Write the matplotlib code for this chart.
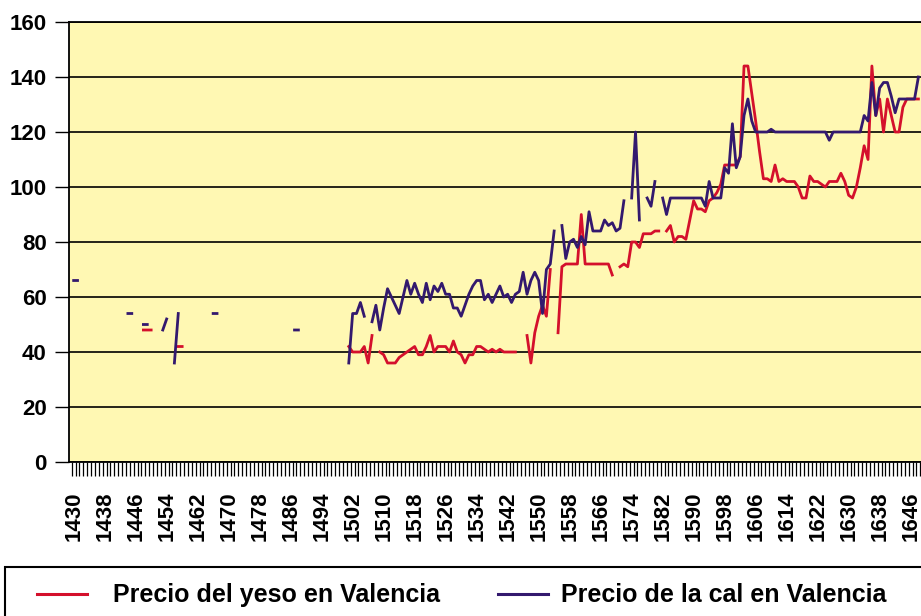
import numpy as np
import pandas as pd
import matplotlib
matplotlib.use('Agg')
import matplotlib.pyplot as plt
from matplotlib.lines import Line2D
from matplotlib.patches import Rectangle

plt.rcParams['font.family'] = ['Liberation Sans', 'DejaVu Sans']
plt.rcParams['font.weight'] = 'bold'

# precio del yeso (red) - years with data, gaps are left out
years_yeso = [1448, 1449, 1450, 1457, 1458,
              1501, 1502, 1503, 1504, 1505, 1506, 1507,
              1509, 1510, 1511, 1512, 1513, 1514, 1515, 1516, 1517, 1518, 1519, 1520,
              1521, 1522, 1523, 1524, 1525, 1526, 1527, 1528, 1529, 1530, 1531, 1532,
              1533, 1534, 1535, 1536, 1537, 1538, 1539, 1540, 1541, 1542, 1543, 1544,
              1547, 1548, 1549, 1550, 1551, 1552, 1553,
              1555, 1556, 1557, 1558, 1559, 1560, 1561, 1562, 1563, 1564, 1565, 1566,
              1567, 1568, 1569,
              1571, 1572, 1573, 1574, 1575, 1576, 1577, 1578, 1579, 1580, 1581,
              1583, 1584, 1585, 1586, 1587, 1588, 1589, 1590, 1591, 1592, 1593, 1594,
              1595, 1596, 1597, 1598, 1599, 1600, 1601, 1602, 1603, 1604, 1605, 1606,
              1607, 1608, 1609, 1610, 1611, 1612, 1613, 1614, 1615, 1616, 1617, 1618,
              1619, 1620, 1621, 1622, 1623, 1624, 1625, 1626, 1627, 1628, 1629, 1630,
              1631, 1632, 1633, 1634, 1635, 1636, 1637, 1638, 1639, 1640, 1641, 1642,
              1643, 1644, 1645, 1646, 1647, 1648]
yeso = [48, 48, 48, 42, 42,
        42, 40, 40, 40, 42, 36, 46,
        40, 39, 36, 36, 36, 38, 39, 40, 41, 42, 39, 39,
        42, 46, 40, 42, 42, 42, 40, 44, 40, 39, 36, 39,
        39, 42, 42, 41, 40, 41, 40, 41, 40, 40, 40, 40,
        46, 36, 47, 53, 57, 53, 70,
        47, 71, 72, 72, 72, 72, 90, 72, 72, 72, 72, 72,
        72, 72, 68,
        71, 72, 71, 80, 80, 78, 83, 83, 83, 84, 84,
        84, 86, 80, 82, 82, 81, 88, 95, 92, 92, 91, 95,
        96, 98, 101, 108, 108, 108, 108, 111, 144, 144, 134, 124,
        113, 103, 103, 102, 108, 102, 103, 102, 102, 102, 100, 96,
        96, 104, 102, 102, 101, 100, 102, 102, 102, 105, 102, 97,
        96, 100, 107, 115, 110, 144, 126, 132, 120, 132, 126, 120,
        120, 129, 132, 132, 132, 132]

# precio de la cal (blue)
years_cal = [1430, 1431, 1444, 1445, 1448, 1449, 1453, 1454, 1456, 1457,
             1466, 1467, 1487, 1488,
             1501, 1502, 1503, 1504, 1505,
             1507, 1508, 1509, 1510, 1511, 1512, 1513, 1514, 1515, 1516, 1517, 1518,
             1519, 1520, 1521, 1522, 1523, 1524, 1525, 1526, 1527, 1528, 1529, 1530,
             1531, 1532, 1533, 1534, 1535, 1536, 1537, 1538, 1539, 1540, 1541, 1542,
             1543, 1544, 1545, 1546, 1547, 1548, 1549, 1550, 1551, 1552, 1553, 1554,
             1556, 1557, 1558, 1559, 1560, 1561, 1562, 1563, 1564, 1565, 1566, 1567,
             1568, 1569, 1570, 1571, 1572,
             1574, 1575, 1576,
             1578, 1579, 1580,
             1582, 1583, 1584, 1585, 1586, 1587, 1588, 1589, 1590, 1591, 1592, 1593,
             1594, 1595, 1596, 1597, 1598, 1599, 1600, 1601, 1602, 1603, 1604, 1605,
             1606, 1607, 1608, 1609, 1610, 1611, 1612, 1613, 1614, 1615, 1616, 1617,
             1618, 1619, 1620, 1621, 1622, 1623, 1624, 1625, 1626, 1627, 1628, 1629,
             1630, 1631, 1632, 1633, 1634, 1635, 1636, 1637, 1638, 1639, 1640, 1641,
             1642, 1643, 1644, 1645, 1646, 1647, 1648]
cal = [66, 66, 54, 54, 50, 50, 48, 52, 36, 54,
       54, 54, 48, 48,
       36, 54, 54, 58, 53,
       51, 57, 48, 56, 63, 60, 57, 54, 60, 66, 61, 65,
       61, 58, 65, 59, 64, 62, 65, 61, 61, 56, 56, 53,
       57, 61, 64, 66, 66, 59, 61, 58, 61, 64, 60, 61,
       58, 61, 62, 69, 61, 66, 69, 66, 54, 70, 72, 84,
       86, 74, 80, 81, 78, 82, 79, 91, 84, 84, 84, 88,
       86, 87, 84, 85, 95,
       96, 120, 88,
       96, 93, 102,
       96, 90, 96, 96, 96, 96, 96, 96, 96, 96, 96, 93,
       102, 96, 96, 96, 107, 105, 123, 107, 111, 126, 132, 124,
       120, 120, 120, 120, 121, 120, 120, 120, 120, 120, 120, 120,
       120, 120, 120, 120, 120, 120, 120, 117, 120, 120, 120, 120,
       120, 120, 120, 120, 126, 124, 138, 126, 136, 138, 138, 133,
       127, 132, 132, 132, 132, 132, 140]

label_years = list(range(1430, 1647, 8))
legend_labels = ['Precio del yeso en Valencia', 'Precio de la cal en Valencia']
red, blue = '#D4102C', '#33196E'

all_years = np.arange(1430, 1651)
yeso_s = pd.Series(yeso, index=years_yeso).reindex(all_years)
cal_s = pd.Series(cal, index=years_cal).reindex(all_years)

W, H = 921, 616
fig = plt.figure(figsize=(W / 100, H / 100), dpi=100)
ax = fig.add_axes([69 / W, 154 / H, (940 - 69) / W, 440 / H])
ax.set_facecolor('#FFF8B3')

ax.plot(all_years, yeso_s.values, color=red, lw=2.0)
ax.plot(all_years, cal_s.values, color=blue, lw=2.0)

x0 = 1428.8
ax.set_xlim(x0, x0 + (940 - 69) / 3.875)
ax.set_ylim(0, 160)
ax.set_yticks(range(0, 161, 20))
ax.yaxis.grid(True, color='black', lw=1.2)
ax.set_axisbelow(True)

ax.set_xticks(label_years)
ax.set_xticklabels(label_years, rotation=90)
ax.set_xticks(np.arange(1429.5, 1651, 1), minor=True)
ax.tick_params(axis='x', which='major', length=0, pad=21, labelsize=16)
ax.tick_params(axis='x', which='minor', length=10, width=0.9, color='black')
ax.tick_params(axis='y', length=10, width=1, pad=6, labelsize=16)
ax.spines['right'].set_visible(False)
for s in ['left', 'top', 'bottom']:
    ax.spines[s].set_linewidth(1.3)

# legend box along the bottom edge
fig.add_artist(Rectangle((5 / W, -0.1), 1.0, (616 - 567) / H + 0.1, transform=fig.transFigure,
                         fill=False, ec='black', lw=1.5))
for (lx0, lx1, tx), col, lab in zip([(37, 87, 113), (498, 548, 561)], [red, blue], legend_labels):
    fig.add_artist(Line2D([lx0 / W, lx1 / W], [1 - 594 / H] * 2, transform=fig.transFigure,
                          color=col, lw=2.2))
    fig.text(tx / W, 1 - 602 / H, lab, fontsize=18, fontweight='bold', va='baseline')

fig.savefig('out.png', dpi=100)
